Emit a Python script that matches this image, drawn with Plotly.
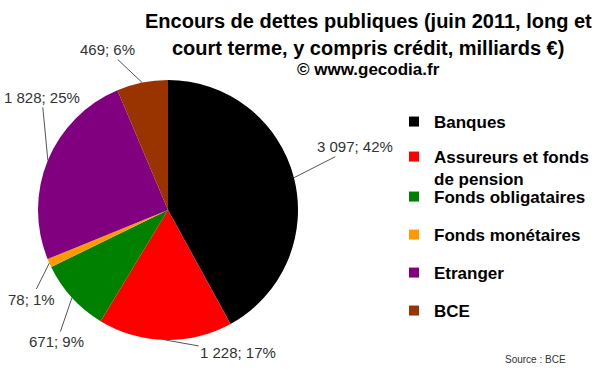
import math
import plotly.graph_objects as go

# ---- data ----
categories = ["Banques", "Assureurs et fonds de pension", "Fonds obligataires",
              "Fonds monétaires", "Etranger", "BCE"]
legend_labels = ["Banques", "Assureurs et fonds<br>de pension", "Fonds obligataires",
                 "Fonds monétaires", "Etranger", "BCE"]
values = [3097, 1228, 671, 78, 1828, 469]
colors = ["#000000", "#FF0000", "#008000", "#FF9900", "#800080", "#993300"]

# ---- layout constants ----
W, H = 600, 372
CX, CY, R = 168, 210, 130
FONT = "Arial, 'Liberation Sans', sans-serif"
label_offsets = [(61, -31), (73, 13), (-15, 44), (-18, 36), (-6, -63), (-35, -33)]
legend_y_px = [122, 168, 197, 235, 273, 311]
LEGEND_X_PX = 394

total = sum(values)

fig = go.Figure()
fig.add_trace(go.Pie(
    labels=categories, values=values, sort=False, direction="clockwise",
    rotation=0, marker=dict(colors=colors, line=dict(width=0)),
    textinfo="none", hoverinfo="label+value+percent", showlegend=False,
    domain=dict(x=[(CX - R) / W, (CX + R) / W],
                y=[1 - (CY + R) / H, 1 - (CY - R) / H]),
))

# legend entries (one legend each to reproduce spacing)
layout_legends = {}
for i, (lab, col) in enumerate(zip(legend_labels, colors)):
    lname = "legend" if i == 0 else f"legend{i + 1}"
    fig.add_trace(go.Scatter(
        x=[None], y=[None], mode="markers", name=lab, legend=lname,
        marker=dict(symbol="square", size=10, color=col, line=dict(width=0)),
        hoverinfo="skip",
    ))
    layout_legends[lname] = dict(
        x=LEGEND_X_PX / W, xanchor="left", y=1 - legend_y_px[i] / H, yanchor="middle",
        valign="top", bgcolor="rgba(0,0,0,0)", borderwidth=0,
        font=dict(family=FONT, size=17, color="#000000", weight="bold"),
        itemclick=False, itemdoubleclick=False,
    )

# value labels with leader lines, anchored on slice mid angles
annotations = []
cum = 0
for i, v in enumerate(values):
    mid = (cum + v / 2) / total
    cum += v
    theta = 2 * math.pi * mid
    px = CX + R * math.sin(theta)
    py = CY - R * math.cos(theta)
    txt = f"{v:,}".replace(",", " ") + f"; {round(v / total * 100)}%"
    ax, ay = label_offsets[i]
    annotations.append(dict(
        x=px / W, y=1 - py / H, xref="paper", yref="paper",
        text=txt, showarrow=True, arrowhead=0, arrowwidth=1, arrowcolor="#555555",
        standoff=0, ax=ax, ay=ay,
        font=dict(family=FONT, size=15, color="#333333"),
    ))

annotations += [
    dict(x=368 / W, y=1 - 21 / H, xref="paper", yref="paper", showarrow=False,
         xanchor="center", yanchor="middle",
         text="Encours de dettes publiques (juin 2011, long et",
         font=dict(family=FONT, size=20, color="#000000", weight="bold")),
    dict(x=368 / W, y=1 - 48 / H, xref="paper", yref="paper", showarrow=False,
         xanchor="center", yanchor="middle",
         text="court terme, y compris crédit, milliards €)",
         font=dict(family=FONT, size=20, color="#000000", weight="bold")),
    dict(x=368 / W, y=1 - 69 / H, xref="paper", yref="paper", showarrow=False,
         xanchor="center", yanchor="middle",
         text="© www.gecodia.fr",
         font=dict(family=FONT, size=17, color="#000000", weight="bold")),
    dict(x=503 / W, y=1 - 359 / H, xref="paper", yref="paper", showarrow=False,
         xanchor="left", yanchor="middle", text="Source : BCE",
         font=dict(family=FONT, size=10, color="#333333")),
]

fig.update_layout(
    width=W, height=H, margin=dict(l=0, r=0, t=0, b=0),
    paper_bgcolor="white", plot_bgcolor="white",
    xaxis=dict(visible=False), yaxis=dict(visible=False),
    annotations=annotations, **layout_legends,
)

fig.write_html("out.html", config={"displayModeBar": False},
               post_script="document.body.style.margin='0px';")
